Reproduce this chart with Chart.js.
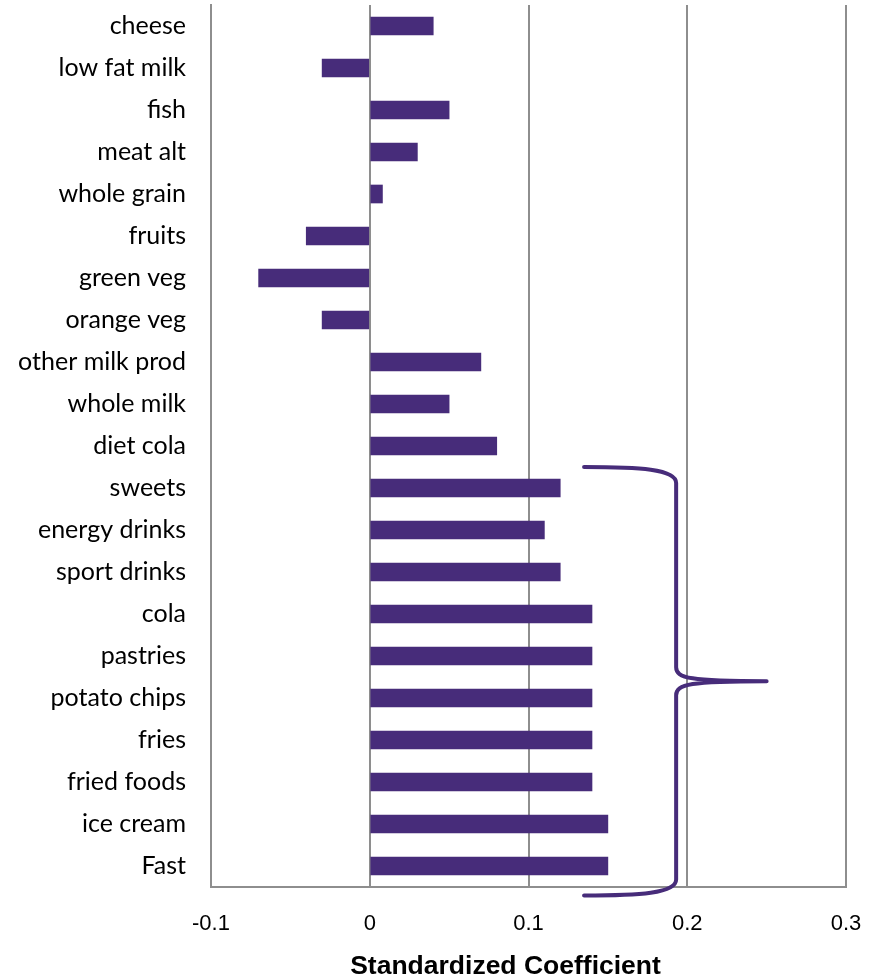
<!DOCTYPE html>
<html>
<head>
<meta charset="utf-8">
<script src="https://cdn.jsdelivr.net/npm/chart.js@4/dist/chart.umd.min.js"></script>
<style>
html,body{margin:0;padding:0;background:#fff;}
#wrap{width:875px;height:980px;position:relative;}
</style>
</head>
<body>
<div id="wrap"><canvas id="c" width="875" height="980"></canvas></div>
<script>
const categories = ["cheese","low fat milk","fish","meat alt","whole grain","fruits","green veg","orange veg","other milk prod","whole milk","diet cola","sweets","energy drinks","sport drinks","cola","pastries","potato chips","fries","fried foods","ice cream","Fast"];
const coefficients = [0.04,-0.03,0.05,0.03,0.008,-0.04,-0.07,-0.03,0.07,0.05,0.08,0.12,0.11,0.12,0.14,0.14,0.14,0.14,0.14,0.15,0.15];
const xTicks = [-0.1, 0, 0.1, 0.2, 0.3];
const axisTitle = "Standardized Coefficient";

const PURPLE = '#472C7A';
const GRID = '#8E8E8E';

// brace annotation grouping "sweets" .. "Fast" (in data units)
const brace = { xEnd: 0.135, xSpine: 0.193, xTip: 0.25, yFrom: 10.5, yTo: 20.7 };

const bracePlugin = {
  id: 'brace',
  afterDatasetsDraw(chart) {
    const {ctx, scales:{x, y}} = chart;
    const xe = x.getPixelForValue(brace.xEnd);
    const xs = x.getPixelForValue(brace.xSpine);
    const xt = x.getPixelForValue(brace.xTip);
    const yt = y.getPixelForValue(brace.yFrom);
    const yb = y.getPixelForValue(brace.yTo);
    const ym = (yt + yb) / 2;
    ctx.save();
    ctx.strokeStyle = PURPLE;
    ctx.lineWidth = 4;
    ctx.lineCap = 'round';
    ctx.lineJoin = 'round';
    ctx.beginPath();
    ctx.moveTo(xe, yt);
    ctx.bezierCurveTo(xe + 55, yt, xs, yt + 2, xs, yt + 16);
    ctx.lineTo(xs, ym - 14);
    ctx.bezierCurveTo(xs, ym - 3, xs + 14, ym, xt, ym);
    ctx.bezierCurveTo(xs + 14, ym, xs, ym + 3, xs, ym + 14);
    ctx.lineTo(xs, yb - 16);
    ctx.bezierCurveTo(xs, yb - 2, xe + 55, yb, xe, yb);
    ctx.stroke();
    ctx.restore();
  }
};

// axis title, drawn slightly left of the plot centre as in the original
const titlePlugin = {
  id: 'axisTitle',
  afterDraw(chart) {
    const {ctx, chartArea} = chart;
    ctx.save();
    ctx.font = 'bold 26.5px "Liberation Sans", Arial, sans-serif';
    ctx.fillStyle = '#000';
    ctx.textAlign = 'center';
    ctx.textBaseline = 'middle';
    ctx.fillText(axisTitle, (chartArea.left + chartArea.right) / 2 - 23, chart.height - 13);
    ctx.restore();
  }
};

new Chart(document.getElementById('c'), {
  type: 'bar',
  data: {
    labels: categories,
    datasets: [{
      data: coefficients,
      backgroundColor: PURPLE,
      borderWidth: 0,
      barThickness: 18
    }]
  },
  options: {
    indexAxis: 'y',
    responsive: false,
    animation: false,
    devicePixelRatio: 1,
    layout: { padding: { top: 5, right: 29, left: 0, bottom: 0 } },
    plugins: { legend: { display: false }, tooltip: { enabled: false } },
    scales: {
      x: {
        type: 'linear',
        min: -0.1, max: 0.3,
        afterBuildTicks(scale) { scale.ticks = xTicks.map(v => ({ value: v })); },
        afterFit(scale) { scale.height = 93; scale.paddingLeft = 0; scale.paddingRight = 0; },
        grid: { color: GRID, lineWidth: 2, drawTicks: false },
        border: { display: true, color: GRID, width: 2 },
        ticks: {
          color: '#000',
          padding: 24,
          font: { family: 'Liberation Sans, Arial, sans-serif', size: 22 },
          callback: v => String(v)
        },
        title: { display: false }
      },
      y: {
        type: 'category',
        afterFit(scale) { scale.width = 211; scale.paddingTop = 0; scale.paddingBottom = 0; },
        grid: { display: false, drawTicks: false },
        border: { display: true, color: GRID, width: 2 },
        ticks: {
          color: '#000',
          padding: 25,
          autoSkip: false,
          font: { family: 'Lato, Carlito, Calibri, sans-serif', size: 25 }
        }
      }
    }
  },
  plugins: [bracePlugin, titlePlugin]
});
</script>
</body>
</html>
